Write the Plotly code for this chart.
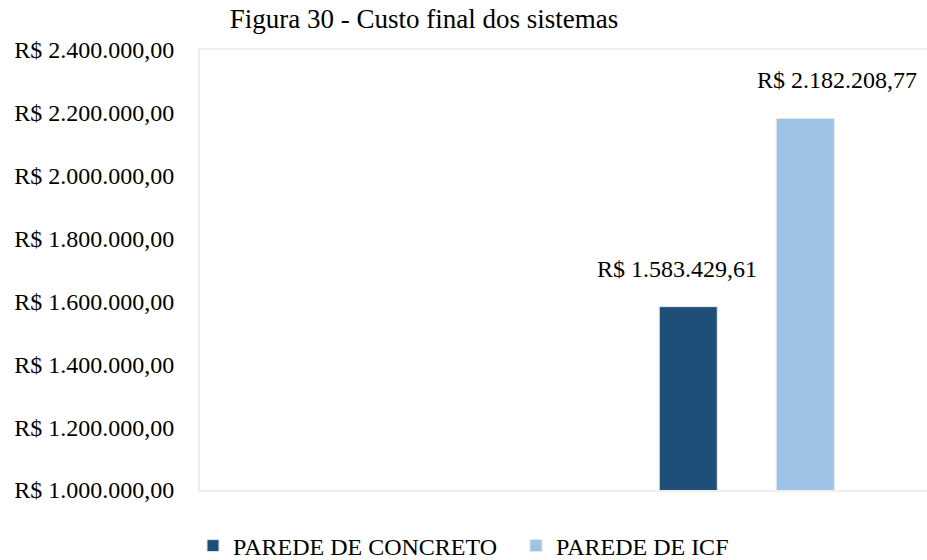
import plotly.graph_objects as go

# Data
series_names = ["PAREDE DE CONCRETO", "PAREDE DE ICF"]
series_values = [1583429.61, 2182208.77]
series_colors = ["#1F4E79", "#9DC3E6"]
category = ["Custo final"]
label_texts = ["R$ 1.583.429,61", "R$ 2.182.208,77"]
label_xshifts = [-70, 90]
y_ticks = [1000000, 1200000, 1400000, 1600000, 1800000, 2000000, 2200000, 2400000]


def brl(v):
    s = f"{v:,.2f}"  # 1,000,000.00
    s = s.replace(",", "X").replace(".", ",").replace("X", ".")
    return "R$ " + s


y_tick_labels = [brl(v) for v in y_ticks]

FONT = "Liberation Serif, Times New Roman, serif"

fig = go.Figure()
for name, val, col in zip(series_names, series_values, series_colors):
    fig.add_trace(go.Bar(
        x=category, y=[val], name=name,
        marker=dict(color=col, line=dict(color="#e6e6e6", width=1)),
        hoverinfo="skip",
    ))

annotations = []
for val, txt, xs in zip(series_values, label_texts, label_xshifts):
    annotations.append(dict(
        x=category[0], y=val, xref="x", yref="y", text=txt, showarrow=False,
        xanchor="center", yanchor="bottom", xshift=xs, yshift=23,
        font=dict(family=FONT, size=24, color="#000000"),
    ))

fig.update_layout(
    width=927, height=560,
    margin=dict(l=200, r=0, t=50, b=70),
    paper_bgcolor="white", plot_bgcolor="white",
    font=dict(family=FONT, size=24, color="#000000"),
    barmode="group", bargap=0.5, bargroupgap=0.504,
    title=dict(text="Figura 30 - Custo final dos sistemas", xref="container", x=424/927,
               xanchor="center", yref="container", y=1 - 19/560, yanchor="middle",
               font=dict(family=FONT, size=27, color="#000000")),
    showlegend=True,
    legend=dict(orientation="h", xref="container", yref="container",
                x=193/927, xanchor="left", y=(560 - 546)/560, yanchor="middle",
                entrywidth=278, entrywidthmode="pixels",
                font=dict(family=FONT, size=24, color="#000000"),
                bgcolor="rgba(0,0,0,0)"),
    annotations=annotations,
)
fig.update_xaxes(range=[-1.1683, 0.3851], showticklabels=False, showgrid=False,
                 zeroline=False, showline=True, linecolor="#efefef", linewidth=2,
                 mirror=True, ticks="")
fig.update_yaxes(range=[1000000, 2400000], tickmode="array", tickvals=y_ticks,
                 ticktext=y_tick_labels, showgrid=False, zeroline=False, showline=True,
                 linecolor="#efefef", linewidth=2, ticks="", ticklabelstandoff=19,
                 tickfont=dict(family=FONT, size=24, color="#000000"))

fig.write_html("out.html")
